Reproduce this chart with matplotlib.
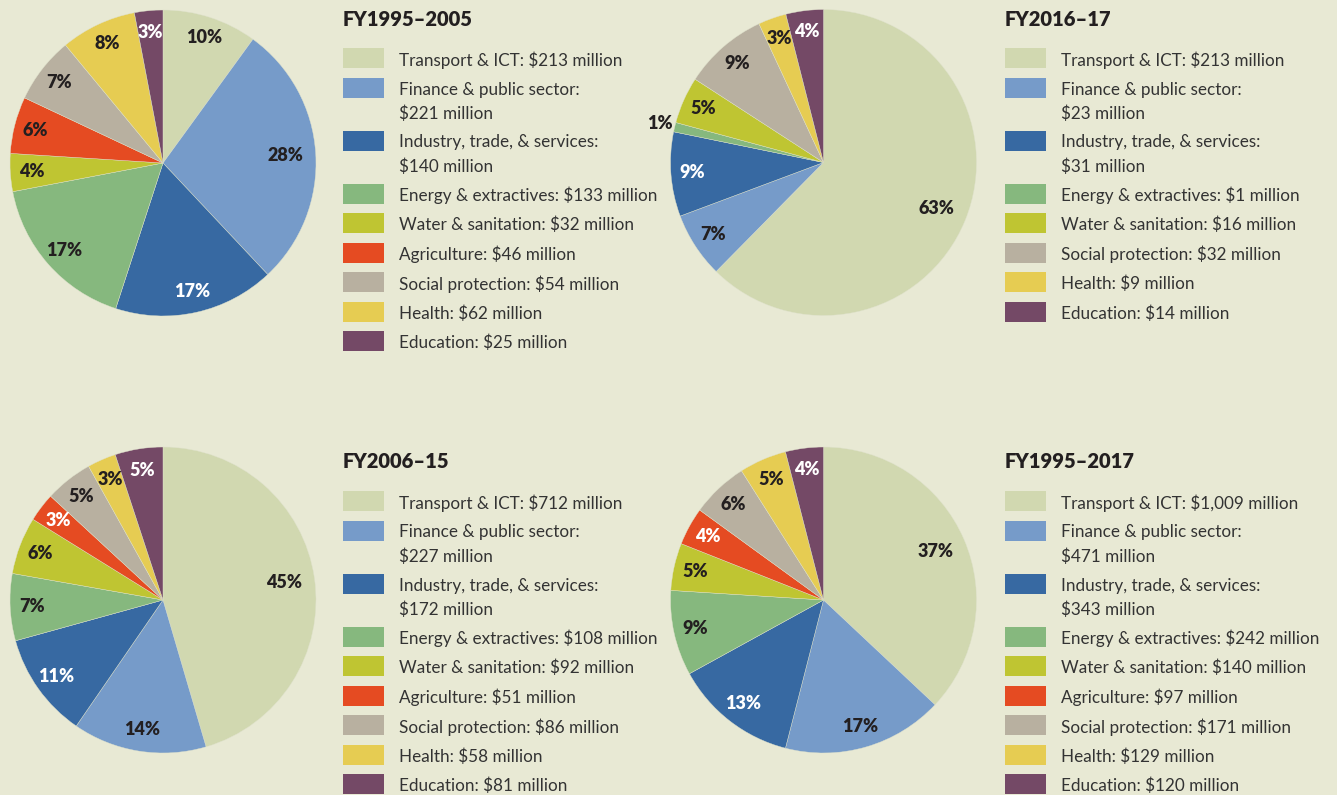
import numpy as np
import matplotlib
matplotlib.use('Agg')
from matplotlib import pyplot as plt
from matplotlib.patches import Rectangle

plt.rcParams['font.family'] = ['Lato', 'DejaVu Sans']

# data
periods = ['FY1995\u20132005', 'FY2016\u201317', 'FY2006\u201315', 'FY1995\u20132017']
sectors = ['Transport & ICT', 'Finance & public sector', 'Industry, trade, & services',
           'Energy & extractives', 'Water & sanitation', 'Agriculture',
           'Social protection', 'Health', 'Education']
# amounts in $ million as written in the legends (None = not listed)
amounts_9505 = [213, 221, 140, 133, 32, 46, 54, 62, 25]
amounts_1617 = [213, 23, 31, 1, 16, None, 32, 9, 14]
amounts_0615 = [712, 227, 172, 108, 92, 51, 86, 58, 81]
amounts_9517 = [1009, 471, 343, 242, 140, 97, 171, 129, 120]
# shares in % as printed on the slices
shares_9505 = [10, 28, 17, 17, 4, 6, 7, 8, 3]
shares_1617 = [63, 7, 9, 1, 5, 0, 9, 3, 4]
shares_0615 = [45, 14, 11, 7, 6, 3, 5, 3, 5]
shares_9517 = [37, 17, 13, 9, 5, 4, 6, 5, 4]

all_amounts = [amounts_9505, amounts_1617, amounts_0615, amounts_9517]
all_shares = [shares_9505, shares_1617, shares_0615, shares_9517]

colors = ['#d1d8b0', '#769bc9', '#3769a2', '#86b87e', '#bfc532',
          '#e54b22', '#b8b0a0', '#e6cc52', '#744966']
BG = '#e8e9d4'
DARK = '#231f20'
# sectors whose slice label is printed in white, per panel
white_labels = [[2, 8], [2, 8], [2, 5, 8], [2, 5, 8]]
two_line = [1, 2]

W, H = 1337, 795
R = 153
pie_centers = [(163, 163), (823.5, 162.5), (163, 600), (823.5, 600)]
legend_pos = [(343, 19), (1005, 19), (343, 462), (1005, 462)]

fig = plt.figure(figsize=(W / 100, H / 100), dpi=100, facecolor=BG)
overlay = fig.add_axes([0, 0, 1, 1])
overlay.set_xlim(0, W)
overlay.set_ylim(H, 0)
overlay.axis('off')

for i in range(4):
    amounts = all_amounts[i]
    shares = all_shares[i]
    idx = [k for k in range(len(sectors)) if amounts[k] is not None]

    cx, cy = pie_centers[i]
    ax = fig.add_axes([(cx - R) / W, 1 - (cy + R) / H, 2 * R / W, 2 * R / H])
    wedges, _ = ax.pie([shares[k] for k in idx], colors=[colors[k] for k in idx],
                       startangle=90, counterclock=False,
                       wedgeprops=dict(linewidth=0.3, edgecolor='#dfe2cc'))
    ax.set_xlim(-1, 1)
    ax.set_ylim(-1, 1)
    for w, k in zip(wedges, idx):
        ang = np.deg2rad((w.theta1 + w.theta2) / 2)
        s = shares[k]
        if s < 2:
            d = 1.1
        elif s >= 20:
            d = 0.8
        else:
            d = 0.86
        col = 'white' if k in white_labels[i] else DARK
        ax.text(d * np.cos(ang), d * np.sin(ang), '%d%%' % s, ha='center', va='center',
                fontsize=13, fontweight='heavy', color=col)

    # legend
    x0, ty = legend_pos[i]
    overlay.text(x0, ty, periods[i], fontsize=14.5, fontweight='heavy', color=DARK,
                 ha='left', va='center')
    y = ty + 39
    for k in idx:
        overlay.add_patch(Rectangle((x0, y - 10), 41, 20, facecolor=colors[k], edgecolor='none'))
        money = '${:,} million'.format(amounts[k])
        if k in two_line:
            lines = [sectors[k] + ':', money]
        else:
            lines = [sectors[k] + ': ' + money]
        for j, line in enumerate(lines):
            overlay.text(x0 + 56, y + 2 + 24 * j, line, fontsize=12.3, color='#333333',
                         ha='left', va='center', parse_math=False)
        y += 29.5 + 23.5 * (len(lines) - 1)

plt.savefig('out.png', dpi=100, facecolor=BG)
